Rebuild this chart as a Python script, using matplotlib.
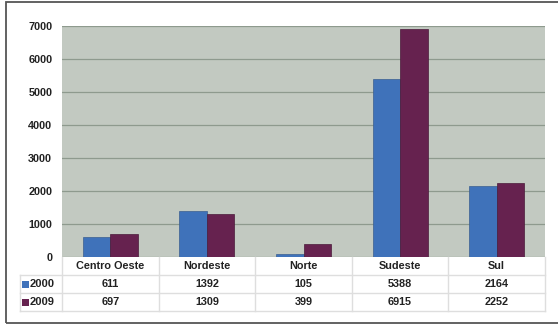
import matplotlib.pyplot as plt
from matplotlib.patches import Rectangle

regions = ['Centro Oeste', 'Nordeste', 'Norte', 'Sudeste', 'Sul']
years = ['2000', '2009']
values_2000 = [611, 1392, 105, 5388, 2164]
values_2009 = [697, 1309, 399, 6915, 2252]
y_ticks = [0, 1000, 2000, 3000, 4000, 5000, 6000, 7000]

colors = ['#3f72ba', '#66224f']
bg = '#c2c9c1'
grid_color = '#8e9a8e'
line_color = '#dedede'
text_color = '#222222'

plt.rcParams['font.family'] = ['Liberation Sans', 'DejaVu Sans']

W, H = 558, 325
fig = plt.figure(figsize=(W / 100, H / 100), dpi=100)

# outer frame
fig.patches.append(Rectangle((6 / W, 1 - 323 / H), 1.2, (323 - 2) / H,
                             transform=fig.transFigure, fill=False,
                             edgecolor='#555555', linewidth=1.3))

# plot area in pixels: left 62, right 545, top 26, bottom 257
x0, x1, y_top, y_zero = 62, 545, 26, 257
ax = fig.add_axes([x0 / W, 1 - y_zero / H, (x1 - x0) / W, (y_zero - y_top) / H])
ax.set_facecolor(bg)

n = len(regions)
xs = list(range(n))
bw = 0.285
ax.bar([x - bw / 2 for x in xs], values_2000, bw, color=colors[0],
       edgecolor='#3a5f90', linewidth=0.5, zorder=3)
ax.bar([x + bw / 2 for x in xs], values_2009, bw, color=colors[1],
       edgecolor='#4a1a3a', linewidth=0.5, zorder=3)

ax.set_xlim(-0.5, n - 0.5)
ax.set_ylim(0, 7000)
ax.set_yticks(y_ticks)
ax.set_yticklabels([str(t) for t in y_ticks], fontsize=7.8, fontweight='bold',
                   color=text_color)
ax.tick_params(axis='y', length=0, pad=7)
ax.set_xticks([])
ax.grid(axis='y', color=grid_color, linewidth=0.9, zorder=1)
for s in ax.spines.values():
    s.set_visible(False)

# data table below the bars
row_h = 18
tbl_left = 20
col_w = (x1 - x0) / n


def fx(px):
    return px / W


def fy(py):
    return 1 - py / H


def hline(py, xa, xb):
    fig.add_artist(plt.Line2D([fx(xa), fx(xb)], [fy(py), fy(py)],
                              color=line_color, linewidth=1))


def vline(px, ya, yb):
    fig.add_artist(plt.Line2D([fx(px), fx(px)], [fy(ya), fy(yb)],
                              color=line_color, linewidth=1))


y_bottom = y_zero + 3 * row_h
hline(y_zero + row_h, tbl_left, x1)
hline(y_zero + 2 * row_h, tbl_left, x1)
hline(y_bottom, tbl_left, x1)
vline(tbl_left, y_zero + row_h, y_bottom)
for i in range(n + 1):
    vline(x0 + i * col_w, y_zero, y_bottom)

for i, name in enumerate(regions):
    cx = x0 + (i + 0.5) * col_w
    fig.text(fx(cx), fy(y_zero + row_h / 2), name, ha='center', va='center',
             fontsize=7.8, fontweight='bold', color=text_color)
    for r, vals in enumerate([values_2000, values_2009]):
        fig.text(fx(cx), fy(y_zero + (r + 1.5) * row_h), str(vals[i]),
                 ha='center', va='center', fontsize=7.8, fontweight='bold',
                 color=text_color)

for r, yr in enumerate(years):
    cy = y_zero + (r + 1.5) * row_h
    fig.patches.append(Rectangle((fx(22), fy(cy + 3.5)), 7 / W, 7 / H,
                                 transform=fig.transFigure,
                                 facecolor=colors[r], edgecolor='none'))
    fig.text(fx(30), fy(cy), yr, ha='left', va='center', fontsize=8,
             fontweight='bold', color=text_color)

fig.savefig('out.png', dpi=100, facecolor='white')
